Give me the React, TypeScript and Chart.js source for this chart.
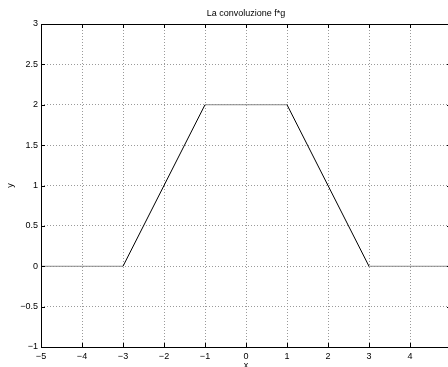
import React, { useEffect, useRef } from "react";
import { Chart, registerables } from "chart.js";

Chart.register(...registerables);

// Piecewise-linear result of the convolution f*g
const xValues = [-5, -3, -1, 1, 3, 5];
const yValues = [0, 0, 2, 2, 0, 0];

const xRange = [-5, 5];
const yRange = [-1, 3];
const xStep = 1;
const yStep = 0.5;

const titleText = "La convoluzione f*g";
const xLabel = "x";
const yLabel = "y";

const FONT = "'Liberation Sans', Arial, Helvetica, sans-serif";

const fmt = (v: number) => String(v).replace("-", "\u2212");

export default function App() {
  const ref = useRef<HTMLCanvasElement | null>(null);

  useEffect(() => {
    const canvas = ref.current;
    if (!canvas) return;

    const framePlugin = {
      id: "frame",
      afterDraw(chart: any) {
        const { ctx, chartArea } = chart;
        const { left, right, top, bottom } = chartArea;
        const xs = chart.scales.x;
        const ys = chart.scales.y;
        ctx.save();
        ctx.strokeStyle = "#000";
        ctx.lineWidth = 1;
        // box
        ctx.strokeRect(Math.round(left) + 0.5, Math.round(top) + 0.5, Math.round(right - left), Math.round(bottom - top));
        // inward tick marks
        const tl = 4;
        ctx.beginPath();
        xs.ticks.forEach((t: any) => {
          const px = Math.round(xs.getPixelForValue(t.value)) + 0.5;
          ctx.moveTo(px, bottom);
          ctx.lineTo(px, bottom - tl);
          ctx.moveTo(px, top);
          ctx.lineTo(px, top + tl);
        });
        ys.ticks.forEach((t: any) => {
          const py = Math.round(ys.getPixelForValue(t.value)) + 0.5;
          ctx.moveTo(left, py);
          ctx.lineTo(left + tl, py);
          ctx.moveTo(right, py);
          ctx.lineTo(right - tl, py);
        });
        ctx.stroke();

        // title and axis labels
        ctx.fillStyle = "#000";
        ctx.font = `9px ${FONT}`;
        ctx.textAlign = "center";
        ctx.textBaseline = "middle";
        const cx = (left + right) / 2;
        ctx.fillText(titleText, cx, 14);
        ctx.fillText(xLabel, cx, 366);
        ctx.translate(11, (top + bottom) / 2);
        ctx.rotate(-Math.PI / 2);
        ctx.fillText(yLabel, 0, 0);
        ctx.restore();
      },
    };

    const chart = new Chart(canvas, {
      type: "line",
      data: {
        datasets: [
          {
            data: xValues.map((x, i) => ({ x, y: yValues[i] })),
            borderColor: "#000",
            borderWidth: 1,
            pointRadius: 0,
            tension: 0,
            segment: {
              borderColor: (c: any) =>
                c.p0.parsed.y === c.p1.parsed.y ? "#8a8a8a" : "#000",
            },
          },
        ],
      },
      options: {
        animation: false,
        responsive: false,
        devicePixelRatio: 1,
        layout: { padding: { top: 24, left: 0, right: 9, bottom: 0 } },
        plugins: {
          legend: { display: false },
          title: { display: false },
          tooltip: { enabled: false },
        },
        scales: {
          x: {
            type: "linear",
            min: xRange[0],
            max: xRange[1],
            afterFit: (s: any) => {
              s.height = 20;
            },
            ticks: {
              stepSize: xStep,
              padding: 4,
              color: "#000",
              font: { family: FONT, size: 9 },
              maxRotation: 0,
              callback: (v: any) => fmt(Number(v)),
            },
            grid: {
              color: "#9a9a9a",
              lineWidth: 1,
              drawTicks: false,
            },
            border: { display: false, dash: [1, 2] },
          },
          y: {
            type: "linear",
            min: yRange[0],
            max: yRange[1],
            afterFit: (s: any) => {
              s.width = 41;
            },
            ticks: {
              stepSize: yStep,
              padding: 3,
              color: "#000",
              font: { family: FONT, size: 9 },
              callback: (v: any) => fmt(Number(v)),
            },
            grid: {
              color: "#9a9a9a",
              lineWidth: 1,
              drawTicks: false,
            },
            border: { display: false, dash: [1, 2] },
          },
        },
      },
      plugins: [framePlugin],
    });

    return () => chart.destroy();
  }, []);

  return (
    <div
      style={{
        position: "fixed",
        left: 0,
        top: 0,
        width: 448,
        height: 367,
        overflow: "hidden",
        background: "#fff",
      }}
    >
      <canvas ref={ref} width={460} height={367} style={{ width: 460, height: 367, display: "block" }} />
    </div>
  );
}
